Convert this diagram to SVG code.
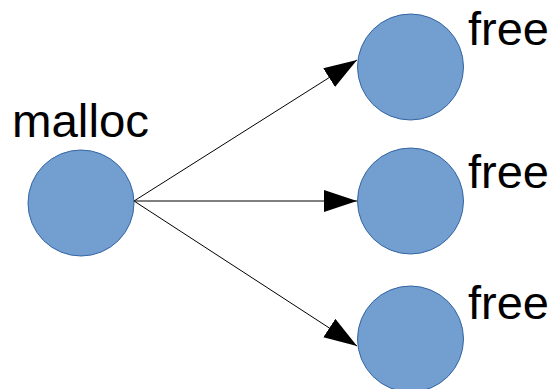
<svg xmlns="http://www.w3.org/2000/svg" width="555" height="389" viewBox="0 0 555 389">
  <style>
    .node { fill: #729fcf; stroke: #3465a4; stroke-width: 1; }
    .label { font-family: "Liberation Sans", Arial, sans-serif; font-size: 47px; fill: #000; }
    .edge { stroke: #000; stroke-width: 1; fill: none; marker-end: url(#arrow); }
  </style>
  <defs>
    <marker id="arrow" markerUnits="userSpaceOnUse" markerWidth="34" markerHeight="24" refX="33" refY="11" orient="auto">
      <path d="M0,0 L33,11 L0,22 Z" fill="#000"/>
    </marker>
  </defs>

  <g id="connectors">
    <line class="edge" x1="134" y1="201" x2="357" y2="60"/>
    <line class="edge" x1="134" y1="201" x2="357" y2="201"/>
    <line class="edge" x1="134" y1="201" x2="357" y2="346"/>
  </g>

  <g id="malloc">
    <circle class="node" cx="81" cy="203" r="53"/>
    <text class="label" x="12" y="137" textLength="137" lengthAdjust="spacingAndGlyphs">malloc</text>
  </g>

  <g id="free1">
    <circle class="node" cx="410.5" cy="67" r="53"/>
    <text class="label" x="468" y="45">free</text>
  </g>

  <g id="free2">
    <circle class="node" cx="410.5" cy="201" r="53"/>
    <text class="label" x="468" y="188">free</text>
  </g>

  <g id="free3">
    <circle class="node" cx="410.5" cy="339" r="53"/>
    <text class="label" x="468" y="319">free</text>
  </g>
</svg>
